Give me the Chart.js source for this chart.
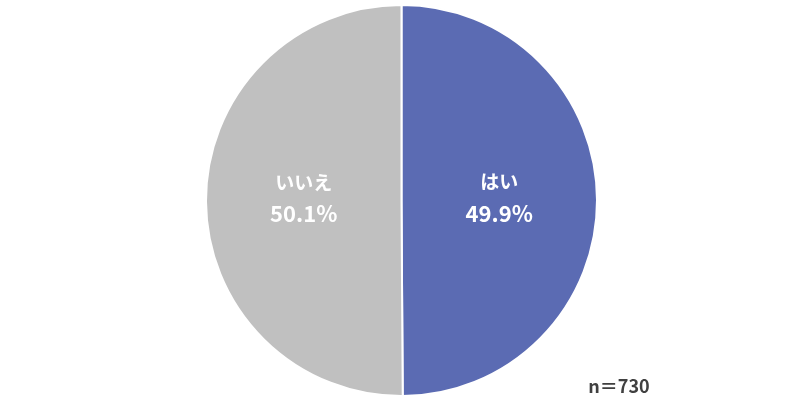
<!DOCTYPE html>
<html>
<head>
<meta charset="utf-8">
<script src="https://cdn.jsdelivr.net/npm/chart.js@4/dist/chart.umd.min.js"></script>
<style>
  html, body { margin: 0; padding: 0; background: #fff; }
  #wrap { position: relative; width: 800px; height: 410px; }
</style>
</head>
<body>
<div id="wrap"><canvas id="c" width="800" height="410"></canvas></div>
<script>
const labels = ['はい', 'いいえ'];
const values = [49.9, 50.1];
const colors = ['#5b6bb3', '#c0c0c0'];
const sampleNote = 'n＝730';

const FONT = '"Noto Sans CJK JP", "Noto Sans", sans-serif';

// labels inside the slices + the n note
const sliceLabels = {
  id: 'sliceLabels',
  afterDatasetsDraw(chart) {
    const ctx = chart.ctx;
    const meta = chart.getDatasetMeta(0);
    ctx.save();
    ctx.fillStyle = '#ffffff';
    ctx.textAlign = 'center';
    ctx.textBaseline = 'middle';
    meta.data.forEach((arc, i) => {
      const p = arc.getProps(['x', 'y', 'startAngle', 'endAngle', 'outerRadius'], true);
      const mid = (p.startAngle + p.endAngle) / 2;
      const r = p.outerRadius * 0.5;
      const x = p.x + Math.cos(mid) * r;
      const y = p.y + Math.sin(mid) * r;
      ctx.font = 'bold 19px ' + FONT;
      ctx.fillText(labels[i], x, y - 18);
      ctx.font = 'bold 22px ' + FONT;
      ctx.fillText(values[i].toFixed(1) + '%', x, y + 13);
    });
    ctx.fillStyle = '#404040';
    ctx.font = 'bold 18px ' + FONT;
    ctx.textAlign = 'center';
    ctx.fillText(sampleNote, 619, 386);
    ctx.restore();
  }
};

new Chart(document.getElementById('c'), {
  type: 'pie',
  data: {
    labels,
    datasets: [{
      data: values,
      backgroundColor: colors,
      borderColor: '#ffffff',
      borderWidth: 2
    }]
  },
  options: {
    responsive: false,
    animation: false,
    layout: { padding: { top: 4, bottom: 13, left: 3, right: 0 } },
    plugins: { legend: { display: false }, tooltip: { enabled: false } }
  },
  plugins: [sliceLabels]
});
</script>
</body>
</html>
